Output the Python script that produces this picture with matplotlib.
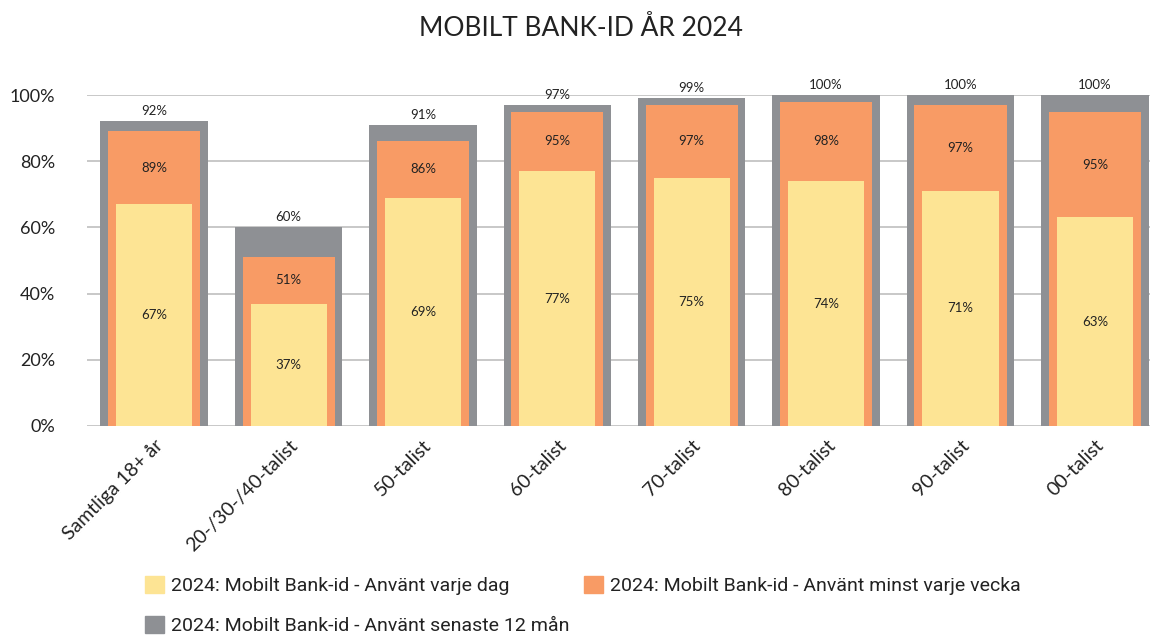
import matplotlib
matplotlib.use("Agg")
import matplotlib.pyplot as plt
from matplotlib.patches import Patch
from matplotlib.transforms import ScaledTranslation

categories = ["Samtliga 18+ år", "20-/30-/40-talist", "50-talist", "60-talist",
              "70-talist", "80-talist", "90-talist", "00-talist"]
senaste_12 = [92, 60, 91, 97, 99, 100, 100, 100]
varje_vecka = [89, 51, 86, 95, 97, 98, 97, 95]
varje_dag = [67, 37, 69, 77, 75, 74, 71, 63]
yticks = [0, 20, 40, 60, 80, 100]

c_gray = "#8e9094"
c_orange = "#f89b65"
c_yellow = "#fde494"
txt = "#222222"

plt.rcParams['font.family'] = ['Lato', 'DejaVu Sans']

fig = plt.figure(figsize=(11.5, 6.39), dpi=100)
ax = fig.add_axes([87/1150, 213/639, (1150-87)/1150, (426-95)/639])

x = list(range(len(categories)))
ax.bar(x, senaste_12, width=0.80, color=c_gray, zorder=2, clip_on=False)
ax.bar(x, varje_vecka, width=0.685, color=c_orange, zorder=3)
ax.bar(x, varje_dag, width=0.566, color=c_yellow, zorder=4)

for i in x:
    ax.text(i, senaste_12[i] + 3.1, f"{senaste_12[i]}%", ha="center", va="center",
            fontsize=9.5, color=txt, zorder=5)
    ax.text(i, (varje_vecka[i] + varje_dag[i]) / 2, f"{varje_vecka[i]}%", ha="center",
            va="center", fontsize=9.5, color=txt, zorder=5)
    ax.text(i, varje_dag[i] / 2, f"{varje_dag[i]}%", ha="center", va="center",
            fontsize=9.5, color=txt, zorder=5)

ax.set_xlim(-0.5, 7.41)
ax.set_ylim(0, 100)
ax.set_yticks(yticks)
ax.set_yticklabels([f"{v}%" for v in yticks], fontsize=13, color=txt)
ax.set_xticks(x)
ax.set_xticklabels(categories, rotation=45, ha="right", rotation_mode="anchor",
                   fontsize=14, color=txt)
shift = ScaledTranslation(-7/100, 0, fig.dpi_scale_trans)
for lbl in ax.get_xticklabels():
    lbl.set_transform(lbl.get_transform() + shift)
ax.tick_params(axis="both", length=0)
ax.tick_params(axis="y", pad=23)
ax.tick_params(axis="x", pad=8)
ax.yaxis.grid(True, color="#c4c4c4", linewidth=1.3, zorder=0)
ax.set_axisbelow(True)
for s in ax.spines.values():
    s.set_visible(False)

fig.text(0.505, 1 - 28/639, "MOBILT BANK-ID ÅR 2024", ha="center", va="center",
         fontsize=19, color=txt)

handles = [Patch(color=c_yellow, label="2024: Mobilt Bank-id - Använt varje dag"),
           Patch(color=c_gray, label="2024: Mobilt Bank-id - Använt senaste 12 mån"),
           Patch(color=c_orange, label="2024: Mobilt Bank-id - Använt minst varje vecka")]
leg = fig.legend(handles=handles, ncol=2, loc="upper left",
                 bbox_to_anchor=(145/1150, 1 - 576/639), frameon=False,
                 prop={"family": ["Roboto", "DejaVu Sans"], "size": 14},
                 handlelength=1.0, handleheight=1.0, handletextpad=0.36,
                 columnspacing=0.7, labelspacing=1.05, borderpad=0, borderaxespad=0)
for t in leg.get_texts():
    t.set_color(txt)

fig.savefig("out.png", dpi=100)
